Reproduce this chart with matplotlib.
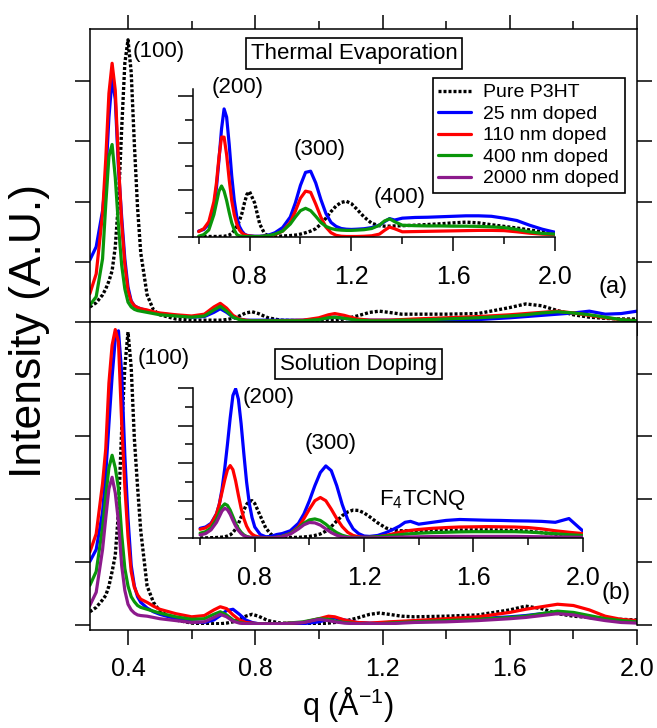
import matplotlib
matplotlib.use('Agg')
import matplotlib.pyplot as plt
from matplotlib.lines import Line2D

plt.rcParams['font.family'] = ['Liberation Sans', 'DejaVu Sans']
plt.rcParams['mathtext.fontset'] = 'custom'
plt.rcParams['mathtext.rm'] = 'Liberation Sans'
plt.rcParams['mathtext.default'] = 'regular'

# ---- main panels: q grid and intensities (A.U.) ----
q_main = [0.28, 0.30, 0.32, 0.33, 0.34, 0.35, 0.36, 0.37, 0.38, 0.39,
          0.40, 0.41, 0.42, 0.43, 0.44, 0.46, 0.48, 0.50, 0.55, 0.60,
          0.64, 0.67, 0.69, 0.71, 0.73, 0.75, 0.77, 0.79, 0.81, 0.84,
          0.88, 0.95, 1.00, 1.03, 1.05, 1.08, 1.12, 1.16, 1.19, 1.22,
          1.26, 1.30, 1.40, 1.50, 1.60, 1.65, 1.70, 1.75, 1.80, 1.85,
          1.90, 1.95, 2.00]

# (a) thermal evaporation
p3ht_a = [0.25, 0.32, 0.45, 0.55, 0.68, 0.85, 1.25, 2.00, 3.20, 4.30,
          4.69, 4.15, 2.95, 1.90, 1.15, 0.45, 0.20, 0.12, 0.05, 0.03,
          0.03, 0.03, 0.03, 0.04, 0.06, 0.10, 0.15, 0.17, 0.14, 0.07,
          0.03, 0.02, 0.02, 0.03, 0.03, 0.05, 0.10, 0.16, 0.18, 0.16,
          0.13, 0.13, 0.13, 0.14, 0.24, 0.30, 0.27, 0.19, 0.12, 0.08,
          0.06, 0.05, 0.05]
d25_a = [1.03, 1.25, 1.85, 2.40, 3.40, 4.05, 3.70, 2.55, 1.75, 1.05,
         0.58, 0.35, 0.27, 0.24, 0.22, 0.19, 0.16, 0.14, 0.11, 0.08,
         0.09, 0.16, 0.22, 0.16, 0.08, 0.05, 0.03, 0.03, 0.03, 0.03,
         0.03, 0.03, 0.05, 0.07, 0.08, 0.06, 0.04, 0.03, 0.03, 0.03,
         0.03, 0.03, 0.03, 0.04, 0.07, 0.09, 0.11, 0.13, 0.15, 0.18,
         0.13, 0.14, 0.18]
d110_a = [0.47, 0.80, 1.80, 2.70, 3.80, 4.30, 3.85, 2.65, 1.65, 0.95,
          0.52, 0.34, 0.27, 0.24, 0.22, 0.20, 0.17, 0.15, 0.12, 0.10,
          0.13, 0.25, 0.31, 0.23, 0.11, 0.05, 0.03, 0.02, 0.02, 0.02,
          0.02, 0.03, 0.07, 0.12, 0.14, 0.11, 0.05, 0.03, 0.03, 0.03,
          0.04, 0.05, 0.07, 0.09, 0.12, 0.14, 0.16, 0.18, 0.15, 0.11,
          0.07, 0.04, 0.02]
d400_a = [0.28, 0.42, 1.05, 1.95, 2.75, 2.95, 2.40, 1.60, 0.95, 0.55,
          0.33, 0.25, 0.21, 0.19, 0.18, 0.16, 0.14, 0.12, 0.10, 0.08,
          0.10, 0.20, 0.26, 0.18, 0.08, 0.04, 0.02, 0.02, 0.02, 0.02,
          0.02, 0.02, 0.04, 0.07, 0.08, 0.06, 0.03, 0.02, 0.02, 0.02,
          0.03, 0.03, 0.05, 0.07, 0.10, 0.12, 0.15, 0.17, 0.15, 0.12,
          0.08, 0.04, 0.02]

# (b) solution doping
p3ht_b = [0.21, 0.28, 0.40, 0.47, 0.62, 0.85, 1.11, 1.80, 3.10, 4.10,
          4.66, 4.10, 2.96, 2.20, 1.50, 0.62, 0.36, 0.22, 0.08, 0.03,
          0.02, 0.02, 0.02, 0.03, 0.05, 0.09, 0.14, 0.17, 0.14, 0.07,
          0.03, 0.02, 0.02, 0.03, 0.04, 0.06, 0.11, 0.17, 0.19, 0.17,
          0.14, 0.13, 0.14, 0.16, 0.24, 0.30, 0.26, 0.18, 0.14, 0.12,
          0.10, 0.09, 0.08]
d25_b = [1.01, 1.20, 1.80, 2.40, 3.20, 3.95, 4.55, 4.68, 4.02, 2.70,
         1.70, 0.95, 0.62, 0.45, 0.36, 0.27, 0.21, 0.17, 0.10, 0.05,
         0.04, 0.08, 0.15, 0.23, 0.25, 0.17, 0.08, 0.04, 0.02, 0.02,
         0.02, 0.02, 0.05, 0.09, 0.11, 0.08, 0.04, 0.03, 0.03, 0.04,
         0.05, 0.06, 0.08, 0.10, 0.13, 0.15, 0.18, 0.20, 0.18, 0.13,
         0.09, 0.07, 0.06]
d110_b = [1.16, 1.45, 2.25, 2.80, 3.85, 4.45, 4.70, 4.50, 3.23, 2.20,
          1.40, 0.85, 0.60, 0.48, 0.41, 0.36, 0.30, 0.25, 0.18, 0.13,
          0.15, 0.24, 0.29, 0.26, 0.16, 0.08, 0.04, 0.03, 0.02, 0.02,
          0.02, 0.04, 0.10, 0.14, 0.13, 0.08, 0.04, 0.03, 0.04, 0.05,
          0.06, 0.07, 0.10, 0.13, 0.20, 0.25, 0.29, 0.33, 0.31, 0.24,
          0.14, 0.09, 0.07]
d400_b = [0.63, 0.85, 1.55, 2.05, 2.50, 2.70, 2.50, 2.17, 1.45, 0.90,
          0.62, 0.45, 0.37, 0.31, 0.28, 0.25, 0.22, 0.19, 0.13, 0.09,
          0.10, 0.17, 0.21, 0.16, 0.08, 0.04, 0.02, 0.02, 0.02, 0.02,
          0.02, 0.05, 0.10, 0.09, 0.06, 0.04, 0.02, 0.02, 0.02, 0.03,
          0.04, 0.05, 0.07, 0.09, 0.12, 0.14, 0.18, 0.22, 0.20, 0.15,
          0.10, 0.07, 0.05]
d2000_b = [0.31, 0.52, 1.20, 1.70, 2.17, 2.35, 2.10, 1.64, 0.95, 0.55,
           0.33, 0.24, 0.19, 0.16, 0.15, 0.14, 0.12, 0.10, 0.07, 0.04,
           0.05, 0.12, 0.17, 0.13, 0.06, 0.03, 0.02, 0.02, 0.02, 0.02,
           0.02, 0.04, 0.09, 0.07, 0.05, 0.03, 0.02, 0.02, 0.02, 0.02,
           0.03, 0.04, 0.05, 0.07, 0.10, 0.12, 0.15, 0.18, 0.16, 0.11,
           0.07, 0.04, 0.03]

# ---- insets ----
q_ins = [0.60, 0.62, 0.64, 0.66, 0.67, 0.68, 0.69, 0.70, 0.71, 0.72,
         0.73, 0.74, 0.75, 0.76, 0.77, 0.78, 0.79, 0.80, 0.82, 0.84,
         0.86, 0.88, 0.90, 0.93, 0.96, 0.98, 1.00, 1.02, 1.04, 1.06,
         1.08, 1.10, 1.12, 1.14, 1.16, 1.18, 1.20, 1.22, 1.25, 1.28,
         1.31, 1.33, 1.35, 1.37, 1.40, 1.45, 1.50, 1.55, 1.60, 1.65,
         1.70, 1.75, 1.80, 1.85, 1.90, 1.95, 2.00]

p3ht_ai = [0.02, 0.02, 0.02, 0.02, 0.02, 0.02, 0.03, 0.03, 0.05, 0.08,
           0.15, 0.28, 0.45, 0.68, 1.00, 1.45, 1.82, 1.93, 1.45, 0.55,
           0.12, 0.04, 0.03, 0.04, 0.06, 0.08, 0.12, 0.18, 0.25, 0.35,
           0.55, 0.80, 1.08, 1.32, 1.47, 1.52, 1.42, 1.20, 0.85, 0.58,
           0.48, 0.46, 0.46, 0.47, 0.48, 0.50, 0.53, 0.56, 0.60, 0.63,
           0.60, 0.52, 0.45, 0.38, 0.30, 0.22, 0.18]
d25_ai = [0.25, 0.32, 0.55, 1.30, 2.10, 3.30, 4.60, 5.45, 5.10, 3.95,
          2.60, 1.55, 0.85, 0.45, 0.25, 0.12, 0.07, 0.05, 0.03, 0.03,
          0.05, 0.10, 0.18, 0.40, 0.85, 1.45, 2.20, 2.75, 2.80, 2.30,
          1.60, 1.00, 0.62, 0.45, 0.36, 0.33, 0.32, 0.33, 0.35, 0.40,
          0.50, 0.65, 0.78, 0.72, 0.80, 0.83, 0.84, 0.86, 0.88, 0.90,
          0.90, 0.88, 0.80, 0.70, 0.50, 0.33, 0.20]
d110_ai = [0.23, 0.35, 0.65, 1.50, 2.30, 3.40, 4.25, 4.25, 3.50, 2.45,
           1.55, 0.95, 0.55, 0.30, 0.17, 0.10, 0.06, 0.04, 0.02, 0.02,
           0.03, 0.05, 0.10, 0.25, 0.62, 1.10, 1.65, 1.95, 1.90, 1.40,
           0.85, 0.42, 0.18, 0.07, 0.03, 0.02, 0.02, 0.02, 0.03, 0.05,
           0.12, 0.28, 0.42, 0.35, 0.22, 0.23, 0.24, 0.25, 0.26, 0.27,
           0.28, 0.28, 0.27, 0.22, 0.16, 0.12, 0.10]
d400_ai = [0.03, 0.10, 0.30, 0.95, 1.45, 1.95, 2.17, 1.95, 1.55, 1.05,
           0.60, 0.30, 0.10, 0.05, 0.03, 0.02, 0.02, 0.02, 0.02, 0.02,
           0.04, 0.07, 0.12, 0.25, 0.55, 0.85, 1.12, 1.22, 1.12, 0.88,
           0.62, 0.45, 0.36, 0.31, 0.29, 0.28, 0.28, 0.29, 0.31, 0.36,
           0.50, 0.68, 0.77, 0.65, 0.50, 0.48, 0.47, 0.47, 0.46, 0.46,
           0.45, 0.43, 0.40, 0.32, 0.22, 0.15, 0.12]

p3ht_bi = [0.02, 0.02, 0.03, 0.04, 0.05, 0.06, 0.08, 0.12, 0.18, 0.30,
           0.50, 0.78, 1.12, 1.50, 1.80, 1.97, 2.00, 1.85, 1.20, 0.55,
           0.20, 0.07, 0.04, 0.04, 0.05, 0.07, 0.10, 0.15, 0.23, 0.38,
           0.62, 0.92, 1.20, 1.40, 1.50, 1.48, 1.35, 1.15, 0.82, 0.55,
           0.42, 0.40, 0.40, 0.40, 0.41, 0.42, 0.43, 0.44, 0.45, 0.45,
           0.44, 0.42, 0.38, 0.30, 0.22, 0.15, 0.10]
d25_bi = [0.53, 0.60, 0.80, 1.30, 1.80, 2.60, 3.70, 5.00, 6.40, 7.60,
          7.95, 7.40, 6.10, 4.50, 3.00, 1.85, 1.10, 0.60, 0.20, 0.08,
          0.10, 0.20, 0.25, 0.40, 0.80, 1.30, 2.00, 2.80, 3.50, 3.85,
          3.60, 2.80, 1.80, 1.00, 0.50, 0.25, 0.12, 0.10, 0.15, 0.30,
          0.50, 0.65, 0.85, 0.90, 0.75, 0.85, 0.95, 1.00, 0.98, 0.96,
          0.95, 0.93, 0.92, 0.90, 0.85, 1.05, 0.40]
d110_bi = [0.48, 0.55, 0.75, 1.30, 1.80, 2.45, 3.10, 3.65, 3.87, 3.65,
           3.05, 2.30, 1.60, 1.05, 0.65, 0.38, 0.22, 0.13, 0.05, 0.03,
           0.03, 0.05, 0.10, 0.25, 0.60, 1.05, 1.55, 2.00, 2.17, 2.00,
           1.55, 1.05, 0.62, 0.32, 0.15, 0.08, 0.05, 0.05, 0.08, 0.15,
           0.25, 0.32, 0.38, 0.42, 0.47, 0.53, 0.57, 0.60, 0.61, 0.62,
           0.61, 0.60, 0.57, 0.50, 0.40, 0.32, 0.25]
d400_bi = [0.27, 0.35, 0.55, 1.00, 1.35, 1.68, 1.83, 1.75, 1.50, 1.15,
           0.80, 0.52, 0.32, 0.18, 0.10, 0.06, 0.04, 0.03, 0.02, 0.02,
           0.03, 0.05, 0.10, 0.25, 0.55, 0.80, 0.98, 1.03, 0.95, 0.75,
           0.50, 0.30, 0.16, 0.08, 0.05, 0.04, 0.04, 0.05, 0.08, 0.12,
           0.16, 0.19, 0.22, 0.24, 0.27, 0.30, 0.32, 0.34, 0.35, 0.35,
           0.35, 0.35, 0.33, 0.29, 0.24, 0.19, 0.15]
d2000_bi = [0.18, 0.25, 0.45, 0.85, 1.15, 1.45, 1.60, 1.52, 1.28, 0.95,
            0.65, 0.42, 0.25, 0.14, 0.08, 0.05, 0.03, 0.02, 0.02, 0.02,
            0.02, 0.04, 0.08, 0.22, 0.50, 0.72, 0.84, 0.82, 0.70, 0.50,
            0.30, 0.16, 0.08, 0.04, 0.03, 0.02, 0.02, 0.02, 0.03, 0.04,
            0.05, 0.06, 0.07, 0.07, 0.08, 0.09, 0.10, 0.10, 0.10, 0.10,
            0.10, 0.10, 0.09, 0.08, 0.07, 0.06, 0.05]

labels = ['Pure P3HT', '25 nm doped', '110 nm doped', '400 nm doped', '2000 nm doped']
colors = ['black', '#0000ff', '#ff0000', '#0a960a', '#8c1a8c']

main_ticks = [0.4, 0.8, 1.2, 1.6, 2.0]
main_minor = [0.6, 1.0, 1.4, 1.8]
ins_ticks = [0.8, 1.2, 1.6, 2.0]
ins_minor = [0.6, 1.0, 1.4, 1.8]

LW = 2.3
DOT = (0, (0.9, 0.6))


def style(i):
    if i == 0:
        return dict(color=colors[0], lw=2.4, linestyle=DOT)
    return dict(color=colors[i], lw=LW, solid_capstyle='round')


def draw(ax, q, series):
    for i, y in series:
        ax.plot(q, y, **style(i))


def setup_main(ax, ytop, bottom):
    ax.set_xlim(0.282, 2.0)
    ax.set_ylim(0, ytop)
    ax.set_yticks([0, 1, 2, 3, 4])
    ax.tick_params(axis='y', direction='out', length=10.5, width=1.1,
                   left=True, right=True, labelleft=False)
    ax.set_xticks(main_ticks)
    ax.set_xticks(main_minor, minor=True)
    for s in ax.spines.values():
        s.set_linewidth(1.1)
    if bottom:
        # Igor-style x axis, pushed a few pixels below the plot area
        ax.spines['bottom'].set_position(('outward', 3.6))
        ax.spines['left'].set_bounds(-0.08, ytop)
        ax.xaxis.set_major_formatter(plt.FormatStrFormatter('%.1f'))
        ax.tick_params(axis='x', which='major', direction='out', length=10.8,
                       width=1.1, top=False, labelsize=18, pad=9)
        ax.tick_params(axis='x', which='minor', direction='out', length=6.5,
                       width=1.1, top=False)
    else:
        ax.tick_params(axis='x', which='major', direction='out', length=10,
                       width=1.1, top=True, bottom=True, labelbottom=False)
        ax.tick_params(axis='x', which='minor', direction='out', length=5.5,
                       width=1.1, top=True, bottom=True)


def setup_inset(ax, xlo, ytop, ymaj, ymin):
    ax.set_xlim(xlo, 2.0)
    ax.set_ylim(0, ytop)
    ax.patch.set_alpha(0)
    ax.spines['top'].set_visible(False)
    ax.spines['right'].set_visible(False)
    for s in ax.spines.values():
        s.set_linewidth(1.1)
    ax.set_xticks(ins_ticks)
    ax.set_xticks(ins_minor, minor=True)
    ax.xaxis.set_major_formatter(plt.FormatStrFormatter('%.1f'))
    ax.set_yticks(ymaj)
    ax.set_yticks(ymin, minor=True)
    ax.tick_params(axis='x', which='major', direction='out', length=10,
                   width=1.1, labelsize=18, pad=10)
    ax.tick_params(axis='x', which='minor', direction='out', length=5, width=1.1)
    ax.tick_params(axis='y', which='major', direction='out', length=11,
                   width=1.1, labelleft=False)
    ax.tick_params(axis='y', which='minor', direction='out', length=6, width=1.1)


fig = plt.figure(figsize=(6.57, 7.28), dpi=100)
ax1 = fig.add_axes([0.1377, 0.5577, 0.8319, 0.4025])
ax2 = fig.add_axes([0.1377, 0.1415, 0.8319, 0.4162])
axi1 = fig.add_axes([0.2938, 0.6745, 0.551, 0.2033])
axi2 = fig.add_axes([0.2938, 0.2606, 0.593, 0.2065])

# panel (a)
draw(ax1, q_main, [(0, p3ht_a), (1, d25_a), (2, d110_a), (3, d400_a)])
setup_main(ax1, 4.87, bottom=False)
ax1.text(0.414, 4.50, '(100)', fontsize=16, ha='left', va='center')
ax1.text(1.924, 0.58, '(a)', fontsize=17, ha='center', va='center')
ax1.text(0.482, 0.916, 'Thermal Evaporation', transform=ax1.transAxes,
         fontsize=16, ha='center', va='center',
         bbox=dict(boxstyle='square,pad=0.22', fc='white', ec='black', lw=1.2))

draw(axi1, q_ins, [(0, p3ht_ai), (1, d25_ai), (2, d110_ai), (3, d400_ai)])
setup_inset(axi1, 0.578, 6.3, [0, 2, 4, 6], [1, 3, 5])
axi1.text(0.755, 6.38, '(200)', fontsize=16, ha='center', va='center')
axi1.text(1.076, 3.74, '(300)', fontsize=16, ha='center', va='center')
axi1.text(1.389, 1.70, '(400)', fontsize=16, ha='center', va='center')

handles = [Line2D([], [], **style(i)) for i in range(len(labels))]
leg = axi1.legend(handles, labels, loc='upper right',
                  bbox_to_anchor=(625 / 657, 1 - 78 / 728),
                  bbox_transform=fig.transFigure, fontsize=14, fancybox=False,
                  edgecolor='black', framealpha=1, handlelength=1.7,
                  handletextpad=0.6, labelspacing=0.2, borderpad=0.3,
                  borderaxespad=0)
leg.get_frame().set_linewidth(1.2)

# panel (b)
draw(ax2, q_main, [(0, p3ht_b), (1, d25_b), (2, d110_b), (3, d400_b), (4, d2000_b)])
setup_main(ax2, 4.82, bottom=True)
ax2.text(0.431, 4.24, '(100)', fontsize=16, ha='left', va='center')
ax2.text(1.933, 0.51, '(b)', fontsize=17, ha='center', va='center')
ax2.text(0.491, 0.861, 'Solution Doping', transform=ax2.transAxes,
         fontsize=16, ha='center', va='center',
         bbox=dict(boxstyle='square,pad=0.22', fc='white', ec='black', lw=1.2))

draw(axi2, q_ins, [(0, p3ht_bi), (1, d25_bi), (2, d110_bi), (3, d400_bi), (4, d2000_bi)])
setup_inset(axi2, 0.574, 8.0, [0, 2, 4, 6, 8], [1, 3, 5, 7])
axi2.text(0.852, 7.47, '(200)', fontsize=16, ha='center', va='center')
axi2.text(1.079, 5.02, '(300)', fontsize=16, ha='center', va='center')
axi2.text(1.253, 2.04, 'F$_4$TCNQ', fontsize=16, ha='left', va='center')

fig.text(30 / 657, 1 - 331 / 728, 'Intensity (A.U.)', rotation=90,
         fontsize=32, ha='center', va='center')
fig.text(348 / 657, 1 - 705 / 728, 'q (Å$^{-1}$)', fontsize=22,
         ha='center', va='center')

fig.savefig('out.png', dpi=100)
